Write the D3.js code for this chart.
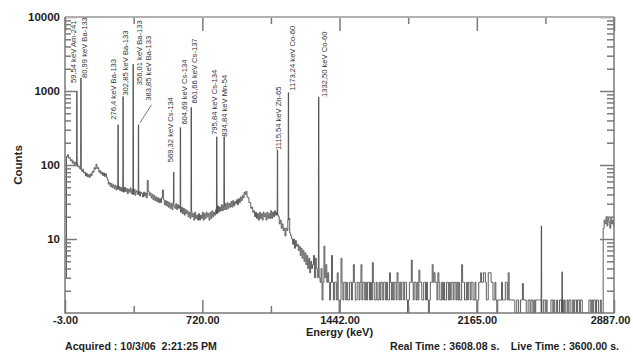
<!DOCTYPE html>
<html>
<head>
<meta charset="utf-8">
<script src="https://cdn.jsdelivr.net/npm/d3@7"></script>
<style>
  body { margin: 0; background: #fff; }
  svg { display: block; }
  text { font-family: "Liberation Sans", Arial, sans-serif; }
</style>
</head>
<body>
<svg id="chart" width="633" height="353"></svg>
<script>

// counts per 5 keV bin, 0 .. 1335 keV (one row = 100 keV)
const binWidth = 5;
const lowCounts = [
  3, 130, 138, 124, 126, 114, 118, 106, 112, 102, 108, 98, 102, 94, 96, 88, 92, 82, 87, 78,
  80, 71, 77, 69, 74, 68, 76, 72, 82, 80, 92, 88, 102, 90, 92, 80, 84, 76, 80, 72,
  78, 70, 76, 68, 63, 55, 58, 51, 56, 50, 54, 48, 53, 46, 52, 47, 51, 45, 50, 44,
  49, 43, 50, 44, 48, 41, 47, 43, 49, 41, 46, 40, 47, 39, 45, 43, 40, 44, 38, 43,
  41, 37, 43, 38, 42, 36, 62, 44, 39, 42, 36, 40, 34, 39, 33, 37, 32, 36, 31, 35,
  31, 36, 46, 34, 29, 33, 28, 32, 27, 31, 26, 30, 25, 31, 28, 26, 30, 25, 29, 26,
  28, 23, 27, 22, 26, 21, 25, 22, 24, 20, 23, 19, 24, 20, 22, 18, 23, 19, 21, 18,
  22, 18, 21, 19, 23, 18, 22, 19, 23, 20, 22, 18, 23, 19, 24, 20, 23, 21, 25, 22,
  28, 23, 27, 24, 29, 24, 28, 25, 30, 25, 31, 26, 30, 27, 32, 27, 33, 28, 32, 30,
  34, 29, 35, 31, 37, 33, 39, 36, 43, 40, 44, 37, 36, 31, 31, 26, 27, 23, 24, 20,
  23, 19, 22, 18, 23, 19, 22, 18, 23, 20, 22, 18, 23, 19, 22, 19, 24, 19, 23, 20,
  24, 21, 23, 21, 20, 16, 18, 14, 16, 13, 14, 11, 14, 13, 18, 19, 12, 11, 10, 8.5,
  10, 7.5, 9.5, 8, 8.5, 7, 8, 6, 7.5, 5.5, 7, 5, 6.5, 4.5, 6, 4, 5.5, 3.5, 5, 4,
  4.5, 6, 3, 5.5, 4, 3, 4, 3
];

// counts per 5 keV bin, 1340 .. 2885 keV (one row = 100 keV)
const highCounts = [
  2.6, 4, 1.5, 2.6, 8, 3, 4.5, 2.6, 3.5, 2.6, 1.5, 2.6, 6, 2.6, 1.5, 2.6, 2.6, 1.5, 3.5, 1.5,
  0, 1.5, 5.5, 2.6, 1.5, 2.6, 2.6, 1.5, 2.6, 1.5, 1.5, 2.6, 2.6, 1.5, 2.6, 4.5, 2.6, 1.5, 1.5, 2.6,
  2.6, 1.5, 2.6, 4.5, 1.5, 2.6, 2.6, 1.5, 2.6, 1.5, 2.6, 2.6, 1.5, 2.6, 1.5, 4.8, 2.6, 1.5, 1.5, 2.6,
  1.5, 1.5, 2.6, 1.5, 2.6, 2.6, 1.5, 2.6, 2.6, 1.5, 2.6, 1.5, 1.5, 3.5, 2.6, 1.5, 2.6, 1.5, 2.6, 2.6,
  1.5, 3.5, 2.6, 1.5, 2.6, 1.5, 2.6, 2.6, 1.5, 2.6, 2.6, 1.5, 0, 1.5, 2.6, 2.6, 5.2, 2.6, 1.5, 2.6,
  2.6, 1.5, 2.6, 1.5, 3.8, 2.6, 2.6, 1.5, 1.5, 2.6, 2.6, 1.5, 2.6, 1.5, 0, 1.5, 2.6, 2.6, 4.5, 2.6,
  3.5, 2.6, 2.6, 1.5, 3.5, 2.6, 1.5, 1.5, 2.6, 1.5, 2.6, 1.5, 1.5, 2.6, 2.6, 1.5, 2.6, 1.5, 2.6, 2.6,
  1.5, 2.6, 2.6, 1.5, 2.6, 1.5, 2.6, 1.5, 1.5, 4.5, 2.6, 2.6, 1.5, 1.5, 2.6, 1.5, 2.6, 2.6, 1.5, 2.6,
  2.6, 1.5, 1.5, 2.6, 1.5, 0, 1.5, 2.6, 2.6, 3.5, 2.6, 2.6, 3.5, 3.5, 2.6, 1.5, 1.5, 3.5, 3.5, 3.5,
  2.6, 2.6, 1.5, 1.5, 2.6, 1.5, 0, 1.5, 1.5, 1.5, 1.5, 2.6, 1.5, 1.5, 1.5, 2.6, 2.6, 1.5, 3.5, 1.5,
  1.5, 1.5, 1.5, 1.5, 1.5, 0, 0, 1.5, 1.5, 0, 0, 1.5, 1.5, 2.5, 1.5, 1.5, 1.5, 0, 0, 1.5,
  1.5, 0, 1.5, 1.5, 0, 1.5, 0, 1.5, 1.5, 1.5, 1.5, 1.5, 1.5, 0, 0, 1.5, 1.5, 0, 1.5, 0,
  0, 0, 0, 1.5, 1.5, 0, 1.5, 0, 0, 1.5, 0, 0, 1.5, 1.5, 0, 1.5, 0, 1.5, 0, 0,
  1.5, 0, 1.5, 1.5, 0, 0, 1.5, 0, 1.5, 1.5, 0, 1.5, 1.5, 0, 1.5, 1.5, 0, 0, 0, 0,
  0, 0, 0, 1.5, 1.5, 0, 1.5, 0, 1.5, 1.5, 0, 1.5, 1.5, 0, 0, 1.5, 0, 0, 14, 18,
  16, 20, 15, 19, 17, 14, 19, 16, 18, 15
];

// identified peaks
const peakEnergy = [59.54, 80.99, 276.4, 302.85, 356.01, 383.85, 569.32, 604.69,
                    661.66, 795.84, 834.84, 1115.54, 1173.24, 1332.50];
const peakCounts = [1000, 1500, 350, 840, 2300, 350, 80, 320, 600, 240, 240, 160, 950, 830];
const peakLabels = [
  "59,54 keV Am-241", "80,99 keV Ba-133", "276,4 keV Ba-133", "302,85 keV Ba-133",
  "356,01 keV Ba-133", "383,85 keV Ba-133", "569,32 keV Cs-134", "604,69 keV Cs-134",
  "661,66 keV Cs-137", "795,84 keV Cs-134", "834,84 keV Mn-54", "1115,54 keV Zn-65",
  "1173,24 keV Co-60", "1332,50 keV Co-60"
];

// unlabelled peaks
const otherEnergy = [2505, 2614];
const otherCounts = [15, 3.6];

const xMajor = [-3, 720, 1442, 2165, 2887];
const xMinor = [358.5, 1081, 1803.5, 2526];
const yMajor = [10, 100, 1000, 10000];

// label offsets from the peak top, px (dx, dy)
const labelShift = [
  [-1.3, -8], [5.6, 0], [-2, -5], [5, -1], [8.4, 21], [12.6, -24], [-0.6, -10],
  [6.7, -3], [6, -4], [0.4, -2], [3, 0], [3.7, 0], [6.7, -2], [8.5, 0]
];


let svg = d3.select("#chart");
let mLeft = 65, mRight = 614, mTop = 17, mBottom = 313;

let x = d3.scaleLinear().domain([-3, 2887]).range([mLeft, mRight]);
let y = d3.scaleLog().domain([1, 10000]).range([mBottom, mTop]).clamp(true);

let yMinor = [];
[1, 10, 100, 1000].forEach(d => d3.range(2, 10).forEach(m => yMinor.push(d * m)));

// build the spectrum path
let spikes = [];
for (let i = 0; i < peakEnergy.length; i++) spikes.push({e: peakEnergy[i], c: peakCounts[i]});
for (let i = 0; i < otherEnergy.length; i++) spikes.push({e: otherEnergy[i], c: otherCounts[i]});

let counts = lowCounts.concat(highCounts);
let pts = [];
counts.forEach((c, i) => {
  let e0 = i * binWidth, e1 = Math.min(e0 + binWidth, 2887);
  pts.push([e0, c]);
  spikes.filter(p => p.e >= e0 && p.e < e0 + binWidth)
    .sort((a, b) => a.e - b.e)
    .forEach(p => {
      pts.push([p.e - 1.6, c]);
      pts.push([p.e - 0.8, p.c]);
      pts.push([p.e + 0.8, p.c]);
      pts.push([p.e + 1.6, c]);
    });
  pts.push([e1, c]);
});

svg.append("clipPath").attr("id", "plot")
  .append("rect").attr("x", mLeft).attr("y", mTop)
  .attr("width", mRight - mLeft).attr("height", mBottom - mTop);

let line = d3.line()
  .x(d => x(d[0]))
  .y(d => y(Math.max(d[1], 1)));

svg.append("path")
  .datum(pts)
  .attr("clip-path", "url(#plot)")
  .attr("fill", "none")
  .attr("stroke", "#4d4d4d")
  .attr("stroke-width", 0.9)
  .attr("d", line);

// axes
function styleAxis(g) {
  g.select(".domain").remove();
  g.selectAll(".tick line").attr("stroke", "#7a7a7a").attr("stroke-width", 1.5);
  g.selectAll(".tick text")
    .attr("fill", "#1e1e1e")
    .style("font-size", "11.5px")
    .style("font-weight", "bold");
}

let xAxis = svg.append("g").attr("transform", "translate(0," + mBottom + ")")
  .call(d3.axisBottom(x).tickValues(xMajor).tickSize(-13).tickPadding(3)
    .tickFormat(d => d.toFixed(2)))
  .call(styleAxis);
xAxis.selectAll(".tick text").style("font-size", "11px")
  .attr("dx", d => d === 2887 ? -4 : 0);
svg.append("g").attr("transform", "translate(0," + mBottom + ")")
  .call(d3.axisBottom(x).tickValues(xMinor).tickSize(-7).tickFormat(""))
  .call(styleAxis);
svg.append("g").attr("transform", "translate(0," + mTop + ")")
  .call(d3.axisTop(x).tickValues(xMajor).tickSize(-14).tickFormat(""))
  .call(styleAxis);
svg.append("g").attr("transform", "translate(0," + mTop + ")")
  .call(d3.axisTop(x).tickValues(xMinor).tickSize(-7).tickFormat(""))
  .call(styleAxis);

svg.append("g").attr("transform", "translate(" + mLeft + ",0)")
  .call(d3.axisLeft(y).tickValues(yMajor).tickSize(-12).tickPadding(5)
    .tickFormat(d => String(d)))
  .call(styleAxis);
svg.append("g").attr("transform", "translate(" + mLeft + ",0)")
  .call(d3.axisLeft(y).tickValues(yMinor).tickSize(-6).tickFormat(""))
  .call(styleAxis);
svg.append("g").attr("transform", "translate(" + mRight + ",0)")
  .call(d3.axisRight(y).tickValues(yMajor).tickSize(-14).tickFormat(""))
  .call(styleAxis);
svg.append("g").attr("transform", "translate(" + mRight + ",0)")
  .call(d3.axisRight(y).tickValues(yMinor).tickSize(-7).tickFormat(""))
  .call(styleAxis);

// frame
svg.append("line").attr("x1", mLeft).attr("x2", mRight).attr("y1", mTop).attr("y2", mTop)
  .attr("stroke", "#b0b0b0").attr("stroke-width", 2);
svg.append("path")
  .attr("d", "M" + mLeft + "," + mTop + "V" + mBottom + "H" + mRight + "V" + mTop)
  .attr("fill", "none").attr("stroke", "#7a7a7a").attr("stroke-width", 1.5);

// peak labels
let labels = svg.append("g");
peakEnergy.forEach((e, i) => {
  let px = x(e) + labelShift[i][0];
  let py = y(peakCounts[i]) + labelShift[i][1];
  labels.append("text")
    .attr("transform", "translate(" + px + "," + py + ") rotate(-90)")
    .attr("fill", "#333")
    .style("font-size", "7.6px")
    .text(peakLabels[i]);
  if (labelShift[i][1] < -15) {
    labels.append("line")
      .attr("x1", x(e) + 1.5).attr("y1", y(peakCounts[i]) - 2)
      .attr("x2", px + 0.5).attr("y2", py + 4)
      .attr("stroke", "#555").attr("stroke-width", 0.8);
  }
});

// titles
svg.append("text")
  .attr("transform", "translate(22," + ((mTop + mBottom) / 2) + ") rotate(-90)")
  .attr("text-anchor", "middle")
  .style("font-size", "11.5px").style("font-weight", "bold").attr("fill", "#1e1e1e")
  .text("Counts");

svg.append("text")
  .attr("x", 339.5).attr("y", 336)
  .attr("text-anchor", "middle")
  .style("font-size", "11px").style("font-weight", "bold").attr("fill", "#1e1e1e")
  .text("Energy (keV)");

let foot = svg.append("g")
  .style("font-size", "10.6px").style("font-weight", "bold").attr("fill", "#1e1e1e");
foot.append("text").attr("x", 65).attr("y", 350).attr("xml:space", "preserve")
  .text("Acquired : 10/3/06  2:21:25 PM");
foot.append("text").attr("x", 390).attr("y", 350)
  .text("Real Time : 3608.08 s.");
foot.append("text").attr("x", 619).attr("y", 350).attr("text-anchor", "end")
  .text("Live Time : 3600.00 s.");

</script>
</body>
</html>
